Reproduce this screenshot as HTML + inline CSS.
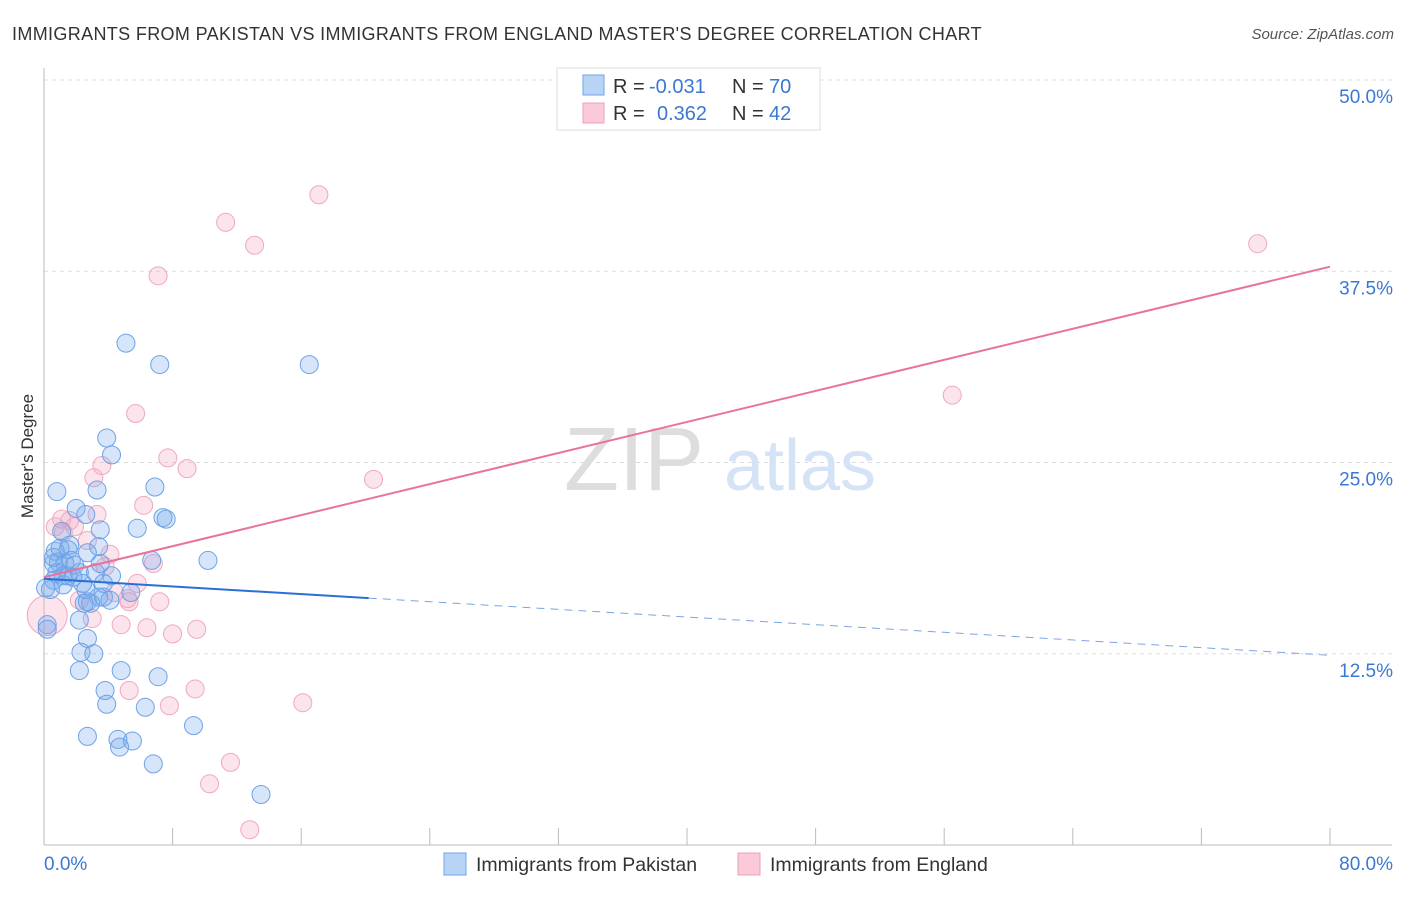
<!DOCTYPE html>
<html><head><meta charset="utf-8"><style>
body{margin:0;background:#fff;font-family:"Liberation Sans",sans-serif;}
svg text{font-family:"Liberation Sans",sans-serif;}
</style></head><body>
<svg id="chart" width="1406" height="892" viewBox="0 0 1406 892" xmlns="http://www.w3.org/2000/svg">
<text x="12" y="40" font-size="18" fill="#333" letter-spacing="0.35">IMMIGRANTS FROM PAKISTAN VS IMMIGRANTS FROM ENGLAND MASTER'S DEGREE CORRELATION CHART</text>
<text x="1394" y="39" font-size="15" fill="#555" font-style="italic" text-anchor="end">Source: ZipAtlas.com</text>
<g id="grid"></g>
<g>
<text x="634" y="490" font-size="90" fill="#ddd" font-family="Liberation Serif" text-anchor="middle">ZIP</text>
<text x="800" y="490" font-size="72" fill="#d4e3f5" text-anchor="middle">atlas</text>
</g>
<line x1="44" y1="68" x2="44" y2="845" stroke="#bbb"/>
<line x1="44" y1="845" x2="1392" y2="845" stroke="#bbb"/>
<g id="xticks"></g>
<g id="ylabels"></g>
<text transform="translate(33,456) rotate(-90)" font-size="17" fill="#333" text-anchor="middle">Master's Degree</text>
<text x="44" y="870" font-size="19" fill="#3a78d4">0.0%</text>
<text x="1393" y="870" font-size="19" fill="#3a78d4" text-anchor="end">80.0%</text>
<g id="pink"></g>
<g id="blue"></g>
<g id="trends"></g>
<g>
<rect x="557" y="68" width="263" height="62" fill="#fff" stroke="#ddd"/>
<rect x="583" y="75" width="21" height="20" fill="#b8d4f5" stroke="#6fa3e6"/>
<rect x="583" y="103" width="21" height="20" fill="#fbcad8" stroke="#eba1b8"/>
<text x="613" y="93" font-size="20" fill="#333">R =</text>
<text x="649" y="93" font-size="20" fill="#3a78d4">-0.031</text>
<text x="732" y="93" font-size="20" fill="#333">N =</text>
<text x="769" y="93" font-size="20" fill="#3a78d4">70</text>
<text x="613" y="120" font-size="20" fill="#333">R =</text>
<text x="657" y="120" font-size="20" fill="#3a78d4">0.362</text>
<text x="732" y="120" font-size="20" fill="#333">N =</text>
<text x="769" y="120" font-size="20" fill="#3a78d4">42</text>
</g>
<g>
<rect x="444" y="853" width="22" height="22" fill="#b8d4f5" stroke="#6fa3e6"/>
<text x="476" y="871" font-size="19.5" fill="#333">Immigrants from Pakistan</text>
<rect x="738" y="853" width="22" height="22" fill="#fbcad8" stroke="#eba1b8"/>
<text x="770" y="871" font-size="19.5" fill="#333">Immigrants from England</text>
</g>
</svg>
<script>
const blueX=[5.1,7.2,16.5,3.9,4.2,0.8,3.3,6.9,2.0,2.6,7.4,7.6,3.5,5.8,1.1,3.4,1.6,0.7,1.5,2.7,0.6,0.9,1.3,1.7,3.5,6.7,10.2,0.8,1.2,1.5,2.2,3.2,4.2,0.6,2.4,1.2,3.7,0.1,5.4,3.4,3.7,2.7,2.9,2.5,0.2,2.2,2.7,2.3,3.1,2.2,4.8,7.1,3.8,3.9,6.3,9.3,2.7,4.6,5.5,4.7,6.8,13.5,0.2,0.4,0.6,1.0,1.9,2.6,4.1,1.8];
const blueY=[32.8,31.4,31.4,26.6,25.5,23.1,23.2,23.4,22.0,21.6,21.4,21.3,20.6,20.7,20.5,19.5,19.6,19.2,19.3,19.1,18.4,18.5,18.4,18.6,18.4,18.6,18.6,17.8,17.6,17.6,17.8,17.8,17.6,17.3,17.1,17.0,17.1,16.8,16.5,16.2,16.2,15.9,15.8,15.8,14.4,14.7,13.5,12.6,12.5,11.4,11.4,11.0,10.1,9.2,9.0,7.8,7.1,6.9,6.8,6.4,5.3,3.3,14.1,16.7,18.8,19.4,18.3,16.7,16.0,17.5];
const pinkX=[17.1,11.3,13.1,7.1,75.5,56.5,5.7,7.7,8.9,3.6,3.1,20.5,3.3,6.2,1.1,0.7,1.9,2.7,4.1,6.8,5.8,5.2,5.3,7.2,4.8,6.4,8.0,9.5,0.2,3.0,5.3,9.4,7.8,16.1,11.6,10.3,12.8,1.2,3.8,2.2,4.4,1.6];
const pinkY=[42.5,40.7,39.2,37.2,39.3,29.4,28.2,25.3,24.6,24.8,24.0,23.9,21.6,22.2,21.3,20.8,20.8,19.9,19.0,18.4,17.1,16.1,15.9,15.9,14.4,14.2,13.8,14.1,15.0,14.8,10.1,10.2,9.1,9.3,5.4,4.0,1.0,20.4,18.2,16.0,16.5,21.2];
const pinkR=pinkX.map((v,i)=>i===28?20:9);
const yTicks=[12.5,25.0,37.5,50.0];
const xTicks=[8,16,24,32,40,48,56,64,72,80];
const blueTrend=[17.4,12.4];
const pinkTrend=[17.5,37.8];
const blueSolidEnd=20.2;
const NS='http://www.w3.org/2000/svg';
const sx=v=>44+v*16.075, sy=v=>845-v*15.3;
function mk(tag,parent,attrs){const e=document.createElementNS(NS,tag);for(const k in attrs)e.setAttribute(k,attrs[k]);document.getElementById(parent).appendChild(e);return e;}
yTicks.forEach(t=>{
 const l=mk('line','grid',{x1:44,x2:1392,y1:sy(t),y2:sy(t),stroke:'#ddd','stroke-dasharray':'4,4'});
 
 
 const tx=mk('text','ylabels',{x:1393,y:sy(t)+23,'font-size':19,fill:'#3a78d4','text-anchor':'end'});
 tx.textContent=t.toFixed(1)+'%';
 
 
});
xTicks.forEach(t=>{
 const l=mk('line','xticks',{x1:sx(t),x2:sx(t),y1:828,y2:845,stroke:'#bbb'});
 
 
});
pinkX.forEach((v,i)=>{
 const c=mk('circle','pink',{cx:sx(v),cy:sy(pinkY[i]),r:pinkR[i],fill:'rgba(245,165,192,0.3)',stroke:'#efa8bf','stroke-width':1});
 
 
});
blueX.forEach((v,i)=>{
 const c=mk('circle','blue',{cx:sx(v),cy:sy(blueY[i]),r:9,fill:'rgba(120,170,235,0.3)',stroke:'#6da3e6','stroke-width':1});
 
 
});
const by=x=>blueTrend[0]+(blueTrend[1]-blueTrend[0])*x/80;
let l1=mk('line','trends',{x1:sx(0),y1:sy(pinkTrend[0]),x2:sx(80),y2:sy(pinkTrend[1]),stroke:'#e8739c','stroke-width':2});


let l2=mk('line','trends',{x1:sx(0),y1:sy(by(0)),x2:sx(blueSolidEnd),y2:sy(by(blueSolidEnd)),stroke:'#2a6fd6','stroke-width':2});


let l3=mk('line','trends',{x1:sx(blueSolidEnd),y1:sy(by(blueSolidEnd)),x2:sx(80),y2:sy(by(80)),stroke:'#7aa5e3','stroke-width':1,'stroke-dasharray':'8,6'});


</script>
</body></html>
